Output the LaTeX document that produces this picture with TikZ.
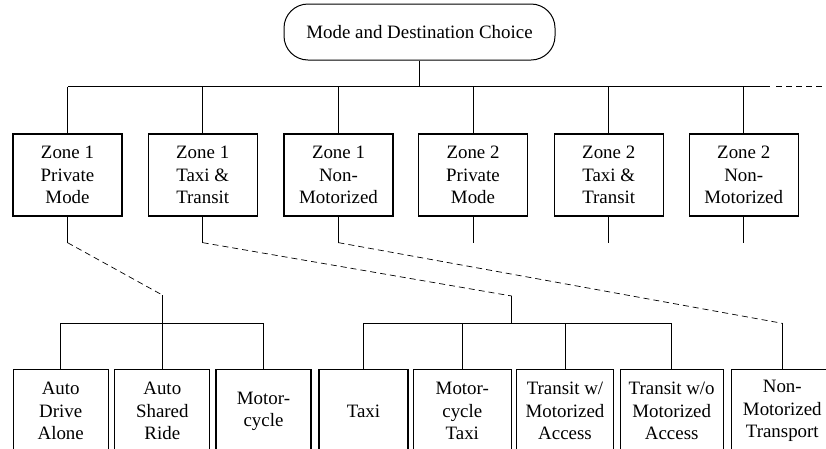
\documentclass[tikz,border=0pt]{standalone}
\usepackage{fontspec}
\setmainfont{Liberation Serif}
\tikzset{
  zonebox/.style={draw=black, line width=1.3pt, minimum width=109pt, minimum height=82pt, align=center, inner sep=0pt},
  modebox/.style={draw=black, line width=1.3pt, minimum height=83pt, align=center, inner sep=0pt, anchor=north},
  link/.style={line width=0.7pt},
  nestlink/.style={line width=0.7pt, dash pattern=on 6pt off 4pt}
}

\begin{document}
\begin{tikzpicture}[x=1pt, y=-1pt, font=\fontsize{18.9}{22.4}\selectfont]
	\useasboundingbox (0,0) rectangle (826,448);
	% top of the tree
	\node[draw=black, line width=1pt, rounded corners=24pt, minimum width=271pt, minimum height=56pt] (root) at (419.5,32) {Mode and Destination Choice};
	\coordinate (bar) at (0,86.7);
	\coordinate (barend) at (770,86.7);
	\coordinate (dashstart) at (776,86.7);
	\coordinate (dashend) at (826,86.7);

	% zone level
	\node[zonebox] (z1p) at (67.5,175) {Zone 1\\Private\\Mode};
	\node[zonebox] (z1t) at (202.7,175) {Zone 1\\Taxi \&\\Transit};
	\node[zonebox] (z1n) at (338.5,175) {Zone 1\\Non-\\Motorized};
	\node[zonebox] (z2p) at (473,175) {Zone 2\\Private\\Mode};
	\node[zonebox] (z2t) at (608.7,175) {Zone 2\\Taxi \&\\Transit};
	\node[zonebox] (z2n) at (743.7,175) {Zone 2\\Non-\\Motorized};

	\draw[link, line width=1.2pt] (root.south) -- (root.south |- bar);
	\draw[link] (z1p.north |- bar) -- (barend);
	\draw[nestlink] (dashstart) -- (dashend);
	\foreach \z in {z1p,z1t,z1n,z2p,z2t,z2n} {
		\draw[link] (\z.north) -- (\z.north |- bar);
		\draw[link] (\z.south) -- ++(0,26) coordinate (\z-end);
	}

	% mode level
	\node[modebox, minimum width=95pt] (ada) at (60.7,369) {Auto\\Drive\\Alone};
	\node[modebox, minimum width=95pt] (asr) at (162.3,369) {Auto\\Shared\\Ride};
	\node[modebox, minimum width=95pt] (moto) at (263.5,369) {Motor-\\cycle};
	\node[modebox, minimum width=89pt] (taxi) at (363.5,369) {Taxi};
	\node[modebox, minimum width=98pt] (mtaxi) at (462.3,369) {Motor-\\cycle\\Taxi};
	\node[modebox, minimum width=97pt] (twm) at (565,369) {Transit w/\\Motorized\\Access};
	\node[modebox, minimum width=103pt] (twom) at (671.7,369) {Transit w/o\\Motorized\\Access};
	\node[modebox, minimum width=102pt] (nmt) at (782.3,369) {Non-\\Motorized\\Transport};

	\coordinate (bus) at (0,323.3);
	\coordinate (g1) at (162.3,295);
	\coordinate (g2) at (511.7,296);

	% private modes
	\draw[nestlink] (z1p-end) -- (g1);
	\draw[link, line width=1.2pt] (g1) -- (g1 |- bus);
	\draw[link] (ada.north |- bus) -- (moto.north |- bus);
	\foreach \m in {ada,asr,moto}
		\draw[link] (\m.north) -- (\m.north |- bus);

	% taxi and transit
	\draw[nestlink] (z1t-end) -- (g2);
	\draw[link, line width=1.2pt] (g2) -- (g2 |- bus);
	\draw[link] (taxi.north |- bus) -- (twom.north |- bus);
	\foreach \m in {taxi,mtaxi,twm,twom}
		\draw[link] (\m.north) -- (\m.north |- bus);

	% non-motorized
	\draw[nestlink] (z1n-end) -- (nmt.north |- bus);
	\draw[link] (nmt.north |- bus) -- (nmt.north);
\end{tikzpicture}
\end{document}
